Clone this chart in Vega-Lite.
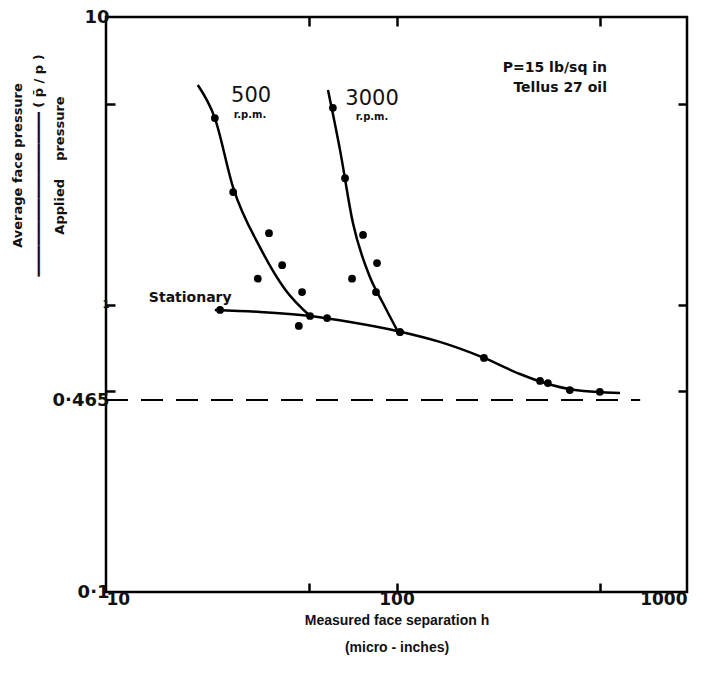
{
  "$schema": "https://vega.github.io/schema/vega-lite/v6.json",
  "width": 581,
  "height": 575,
  "autosize": {"type": "none"},
  "padding": {"left": 106, "top": 17, "right": 17, "bottom": 104},
  "background": "white",
  "config": {
    "view": {"stroke": "black", "strokeWidth": 2.5},
    "font": "DejaVu Sans",
    "axis": {"domain": false, "grid": false, "tickColor": "black", "tickWidth": 2.5, "labelColor": "#111", "titleColor": "#111"}
  },
  "datasets": {
    "curves": [
      {"series": "500", "h": 20.7, "r": 5.8},
      {"series": "500", "h": 23.7, "r": 4.45},
      {"series": "500", "h": 27.4, "r": 2.55},
      {"series": "500", "h": 33.9, "r": 1.58},
      {"series": "500", "h": 41.3, "r": 1.13},
      {"series": "500", "h": 50.4, "r": 0.912},
      {"series": "3000", "h": 58.1, "r": 5.57},
      {"series": "3000", "h": 63.9, "r": 3.45},
      {"series": "3000", "h": 70.8, "r": 1.92},
      {"series": "3000", "h": 81.0, "r": 1.246},
      {"series": "3000", "h": 89.8, "r": 1.012},
      {"series": "3000", "h": 100.4, "r": 0.815},
      {"series": "stat", "h": 23.7, "r": 0.957},
      {"series": "stat", "h": 33.9, "r": 0.942},
      {"series": "stat", "h": 50.4, "r": 0.912},
      {"series": "stat", "h": 69.2, "r": 0.869},
      {"series": "stat", "h": 100.4, "r": 0.809},
      {"series": "stat", "h": 141, "r": 0.741},
      {"series": "stat", "h": 200, "r": 0.652},
      {"series": "stat", "h": 266, "r": 0.573},
      {"series": "stat", "h": 324, "r": 0.533},
      {"series": "stat", "h": 412, "r": 0.504},
      {"series": "stat", "h": 588, "r": 0.492}
    ],
    "points": [
      {"series": "500", "h": 23.7, "r": 4.45},
      {"series": "500", "h": 27.4, "r": 2.46},
      {"series": "500", "h": 36.4, "r": 1.77},
      {"series": "500", "h": 40.4, "r": 1.37},
      {"series": "500", "h": 33.3, "r": 1.23},
      {"series": "500", "h": 47.3, "r": 1.105},
      {"series": "500", "h": 46.1, "r": 0.842},
      {"series": "500", "h": 50.4, "r": 0.912},
      {"series": "3000", "h": 60.4, "r": 4.83},
      {"series": "3000", "h": 66.5, "r": 2.75},
      {"series": "3000", "h": 76.7, "r": 1.745},
      {"series": "3000", "h": 85.7, "r": 1.394},
      {"series": "3000", "h": 70.3, "r": 1.23},
      {"series": "3000", "h": 85.0, "r": 1.105},
      {"series": "3000", "h": 102.8, "r": 0.802},
      {"series": "stat", "h": 24.7, "r": 0.957},
      {"series": "stat", "h": 57.7, "r": 0.897},
      {"series": "stat", "h": 102.8, "r": 0.802},
      {"series": "stat", "h": 200, "r": 0.652},
      {"series": "stat", "h": 312, "r": 0.542},
      {"series": "stat", "h": 332, "r": 0.533},
      {"series": "stat", "h": 395, "r": 0.504},
      {"series": "stat", "h": 501, "r": 0.497}
    ],
    "ref": [{"h": 10, "h2": 690, "r": 0.465}],
    "labels": [
      {"text": "500", "h": 31.6, "r": 5.3, "kind": "big"},
      {"text": "r.p.m.", "h": 31.3, "r": 4.55, "kind": "small"},
      {"text": "3000", "h": 82.4, "r": 5.2, "kind": "big"},
      {"text": "r.p.m.", "h": 82.4, "r": 4.5, "kind": "small"},
      {"text": "P=15 lb/sq in", "h": 351, "r": 6.65, "kind": "note"},
      {"text": "Tellus 27 oil", "h": 366, "r": 5.66, "kind": "note"},
      {"text": "Stationary", "h": 19.5, "r": 1.053, "kind": "note"}
    ]
  },
  "resolve": {"axis": {"x": "independent", "y": "independent"}},
  "layer": [
    {
      "data": {"name": "curves"},
      "mark": {"type": "line", "interpolate": "monotone", "stroke": "black", "strokeWidth": 2.5},
      "encoding": {
        "x": {
          "field": "h", "type": "quantitative",
          "scale": {"type": "log", "domain": [10, 1000], "nice": false},
          "axis": {
            "orient": "bottom",
            "values": [10, 50, 100, 500, 1000],
            "tickSize": -9,
            "tickOpacity": {"condition": {"test": "datum.value==50||datum.value==100||datum.value==500", "value": 1}, "value": 0},
            "labelExpr": "datum.value==10?'10':datum.value==100?'100':datum.value==1000?'1000':''",
            "labelFlush": true,
            "labelFontSize": 17,
            "labelFontWeight": "bold",
            "labelPadding": 8,
            "title": ["Measured face separation h", "(micro - inches)"],
            "titleFont": "Liberation Sans",
            "titleFontSize": 14,
            "titleFontWeight": "bold",
            "titleLineHeight": 27,
            "titleBaseline": "top",
            "titleY": 21
          }
        },
        "y": {
          "field": "r", "type": "quantitative",
          "scale": {"type": "log", "domain": [0.1, 10], "nice": false},
          "axis": {
            "orient": "left",
            "values": [0.1, 0.465, 0.5, 1, 5, 10],
            "tickSize": -9,
            "tickOpacity": {"condition": {"test": "datum.value==0.5||datum.value==1||datum.value==5", "value": 1}, "value": 0},
            "labelExpr": "datum.value==0.465?'0·465':datum.value==0.1?'0·1':datum.value==1?'1':datum.value==10?'10':''",
            "labelFontSize": {"condition": {"test": "datum.value==1", "value": 10}, "value": 18},
            "labelFontWeight": "bold",
            "labelPadding": 6,
            "title": ["Average face pressure\u00a0\u00a0\u00a0\u00a0\u00a0\u00a0\u00a0\u00a0", "\u2501\u2501\u2501\u2501\u2501\u2501\u2501\u2501\u2501\u2501\u2501\u2501\u2501\u2501\u2501\u2501\u2501\u2501\u2501\u2501\u2501 ( p\u0304 / p )", "Applied\u00a0\u00a0\u00a0 pressure\u00a0\u00a0\u00a0\u00a0\u00a0\u00a0\u00a0\u00a0\u00a0"],
            "titleFontSize": 13,
            "titleFontWeight": "bold",
            "titleLineHeight": 21,
            "titleAngle": -90,
            "titleAlign": "center",
            "titleBaseline": "top",
            "titleX": -95,
            "titleY": 148
          }
        },
        "detail": {"field": "series"}
      }
    },
    {
      "data": {"name": "ref"},
      "mark": {"type": "rule", "stroke": "black", "strokeWidth": 2, "strokeDash": [22, 13]},
      "encoding": {
        "x": {
          "field": "h", "type": "quantitative",
          "scale": {"type": "log", "domain": [10, 1000], "nice": false},
          "axis": {"orient": "top", "values": [50, 100, 500], "tickSize": -9, "labels": false, "title": null}
        },
        "x2": {"field": "h2"},
        "y": {
          "field": "r", "type": "quantitative",
          "scale": {"type": "log", "domain": [0.1, 10], "nice": false},
          "axis": {"orient": "right", "values": [0.5, 1, 5], "tickSize": -9, "labels": false, "title": null}
        }
      }
    },
    {
      "data": {"name": "points"},
      "mark": {"type": "circle", "color": "black", "opacity": 1, "size": 60},
      "encoding": {
        "x": {"field": "h", "type": "quantitative", "scale": {"type": "log", "domain": [10, 1000], "nice": false}, "axis": null},
        "y": {"field": "r", "type": "quantitative", "scale": {"type": "log", "domain": [0.1, 10], "nice": false}, "axis": null}
      }
    },
    {
      "data": {"name": "labels"},
      "transform": [{"filter": "datum.kind=='big'"}],
      "mark": {"type": "text", "color": "#111", "align": "center", "baseline": "middle", "fontSize": 21},
      "encoding": {
        "x": {"field": "h", "type": "quantitative", "scale": {"type": "log", "domain": [10, 1000], "nice": false}, "axis": null},
        "y": {"field": "r", "type": "quantitative", "scale": {"type": "log", "domain": [0.1, 10], "nice": false}, "axis": null},
        "text": {"field": "text"}
      }
    },
    {
      "data": {"name": "labels"},
      "transform": [{"filter": "datum.kind=='small'"}],
      "mark": {"type": "text", "color": "#111", "align": "center", "baseline": "middle", "fontSize": 10, "fontWeight": "bold"},
      "encoding": {
        "x": {"field": "h", "type": "quantitative", "scale": {"type": "log", "domain": [10, 1000], "nice": false}, "axis": null},
        "y": {"field": "r", "type": "quantitative", "scale": {"type": "log", "domain": [0.1, 10], "nice": false}, "axis": null},
        "text": {"field": "text"}
      }
    },
    {
      "data": {"name": "labels"},
      "transform": [{"filter": "datum.kind=='note'"}],
      "mark": {"type": "text", "color": "#111", "align": "center", "baseline": "middle", "fontSize": 14, "fontWeight": "bold"},
      "encoding": {
        "x": {"field": "h", "type": "quantitative", "scale": {"type": "log", "domain": [10, 1000], "nice": false}, "axis": null},
        "y": {"field": "r", "type": "quantitative", "scale": {"type": "log", "domain": [0.1, 10], "nice": false}, "axis": null},
        "text": {"field": "text"}
      }
    }
  ]
}
